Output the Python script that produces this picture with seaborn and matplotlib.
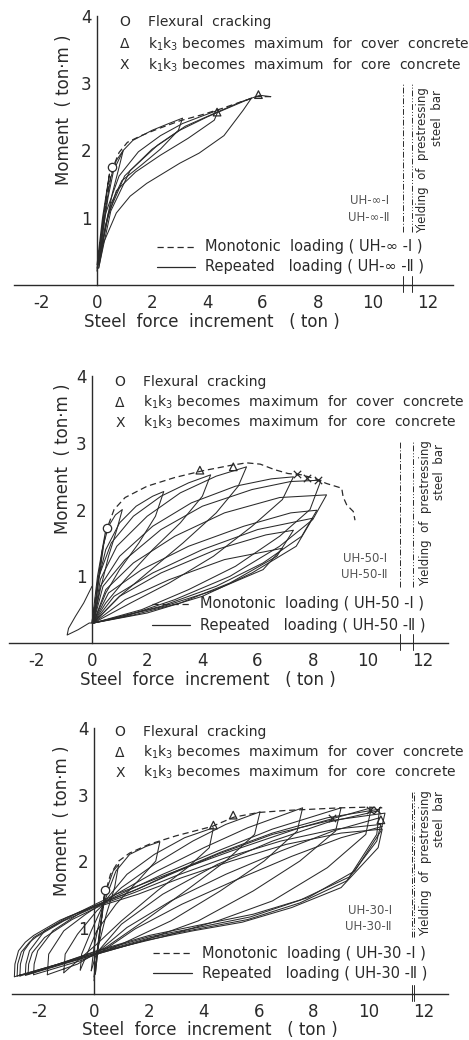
import matplotlib
matplotlib.use("Agg")
import matplotlib.pyplot as plt
import pandas as pd
import seaborn as sns

# ---------------- data ----------------
# Panel 1 : UH-inf
inf_mono = [(0.0, 0.2), (0.15, 0.7), (0.35, 1.3), (0.55, 1.72), (0.8, 1.97), (1.1, 2.12),
            (1.6, 2.22), (2.2, 2.32), (3.0, 2.44), (3.8, 2.53), (4.5, 2.62), (5.2, 2.72),
            (5.8, 2.8), (6.3, 2.8)]
inf_loops = [
    [(0.0, 0.3), (0.2, 1.0), (0.45, 1.65), (0.3, 1.2), (0.1, 0.55), (0.02, 0.3)],
    [(0.0, 0.25), (0.12, 0.6), (0.3, 1.1), (0.5, 1.6), (0.7, 1.85), (0.95, 2.0), (0.8, 1.75),
     (0.55, 1.35), (0.3, 0.85), (0.12, 0.45), (0.04, 0.3)],
    [(0.04, 0.3), (0.2, 0.75), (0.4, 1.3), (0.6, 1.7), (0.95, 2.0), (1.3, 2.15), (2.0, 2.3),
     (2.6, 2.4), (3.1, 2.48), (2.95, 2.3), (2.3, 2.02), (1.6, 1.78), (0.9, 1.55), (0.5, 1.2),
     (0.2, 0.62), (0.05, 0.3)],
    [(0.05, 0.3), (0.3, 1.05), (0.8, 1.62), (1.5, 1.98), (2.3, 2.22), (3.1, 2.4), (3.8, 2.51),
     (4.4, 2.6), (4.25, 2.45), (3.3, 2.18), (2.3, 1.93), (1.4, 1.68), (0.7, 1.4), (0.3, 0.88),
     (0.06, 0.3)],
    [(0.06, 0.3), (0.4, 1.05), (1.0, 1.62), (2.0, 2.02), (3.0, 2.3), (4.0, 2.5), (4.8, 2.64),
     (5.6, 2.78), (5.3, 2.6), (4.6, 2.22), (3.7, 1.96), (3.0, 1.81), (1.8, 1.51), (1.2, 1.32),
     (0.7, 1.07), (0.23, 0.62), (0.06, 0.25)],
    [(0.06, 0.25), (0.5, 1.1), (1.2, 1.7), (2.2, 2.08), (3.2, 2.36), (4.3, 2.56), (5.2, 2.72),
     (5.9, 2.82), (6.3, 2.8)],
]
inf_circle = [(0.55, 1.75)]
inf_tri = [(4.35, 2.57), (5.85, 2.83)]
inf_cross = []

# Panel 2 : UH-50
f50_mono = [(0.0, 0.3), (0.2, 0.9), (0.4, 1.45), (0.55, 1.72), (0.8, 2.0), (1.2, 2.18), (2.0, 2.35),
            (3.0, 2.48), (4.0, 2.58), (5.0, 2.66), (5.6, 2.7), (6.1, 2.68), (6.6, 2.6), (7.1, 2.54),
            (7.6, 2.52), (8.1, 2.46), (8.5, 2.39), (9.05, 2.32), (9.1, 2.19), (9.23, 2.07),
            (9.47, 1.97), (9.53, 1.84)]
f50_loops = [
    [(0.0, 0.3), (0.2, 1.0), (0.5, 1.7), (0.3, 1.1), (0.05, 0.35)],
    [(0.05, 0.3), (0.2, 0.9), (0.4, 1.45), (0.6, 1.75), (0.85, 1.92), (1.1, 2.0), (0.9, 1.7),
     (0.6, 1.3), (0.3, 0.8), (0.05, 0.3)],
    [(0.05, 0.3), (0.2, 0.9), (0.5, 1.4), (1.0, 1.8), (1.6, 2.05), (2.2, 2.2), (2.6, 2.27),
     (2.3, 1.9), (1.7, 1.5), (1.0, 1.1), (0.5, 0.75), (0.05, 0.3)],
    [(0.05, 0.3), (0.25, 1.0), (0.7, 1.5), (1.5, 1.9), (2.5, 2.2), (3.5, 2.4), (4.3, 2.52),
     (4.0, 2.2), (3.2, 1.8), (2.2, 1.4), (1.2, 0.95), (0.5, 0.6), (0.05, 0.3)],
    [(0.05, 0.3), (0.3, 0.95), (0.9, 1.45), (2.0, 1.9), (3.2, 2.25), (4.5, 2.5), (5.6, 2.64),
     (5.3, 2.35), (4.5, 1.95), (3.3, 1.5), (2.0, 1.05), (1.0, 0.7), (0.05, 0.3)],
    [(0.05, 0.3), (0.3, 0.85), (1.0, 1.3), (2.2, 1.75), (3.6, 2.1), (5.2, 2.35), (6.5, 2.46),
     (7.3, 2.49), (6.9, 2.15), (5.8, 1.75), (4.4, 1.3), (2.8, 0.9), (1.4, 0.6), (0.05, 0.3)],
    [(0.05, 0.3), (0.4, 0.85), (1.2, 1.25), (2.5, 1.7), (4.0, 2.05), (5.8, 2.3), (7.2, 2.42),
     (8.3, 2.44), (7.9, 2.0), (6.8, 1.6), (5.2, 1.15), (3.5, 0.8), (1.8, 0.5), (0.05, 0.3)],
    [(0.05, 0.3), (0.5, 0.8), (1.5, 1.2), (3.0, 1.6), (4.8, 1.95), (6.8, 2.18), (8.5, 2.22),
     (8.0, 1.85), (6.8, 1.45), (5.0, 1.0), (3.0, 0.65), (1.2, 0.4), (0.05, 0.3)],
    [(0.05, 0.3), (0.6, 0.75), (1.8, 1.1), (3.5, 1.45), (5.5, 1.75), (7.2, 1.95), (8.15, 1.99),
     (7.6, 1.6), (6.2, 1.2), (4.5, 0.85), (2.5, 0.55), (0.05, 0.3)],
    [(0.05, 0.3), (0.8, 0.7), (2.2, 1.05), (4.0, 1.4), (6.0, 1.7), (8.0, 1.87), (7.4, 1.45),
     (5.8, 1.05), (4.0, 0.7), (2.0, 0.45), (0.05, 0.3)],
    [(0.05, 0.3), (1.0, 0.7), (2.5, 1.05), (4.5, 1.4), (6.3, 1.62), (7.3, 1.69), (6.7, 1.3),
     (5.0, 0.9), (3.2, 0.6), (1.5, 0.42), (0.05, 0.3)],
    [(0.05, 0.3), (1.2, 0.65), (2.8, 0.95), (4.8, 1.25), (6.9, 1.42), (6.2, 1.1), (4.5, 0.8),
     (2.6, 0.55), (0.05, 0.3)],
    [(0.0, 0.85), (-0.3, 0.6), (-0.6, 0.4), (-0.85, 0.22), (-0.9, 0.12), (-0.5, 0.2), (-0.1, 0.3),
     (0.05, 0.3)],
]
f50_circle = [(0.53, 1.72)]
f50_tri = [(3.91, 2.59), (5.12, 2.64)]
f50_cross = [(7.42, 2.53), (7.78, 2.47), (8.2, 2.44)]

# Panel 3 : UH-30
f30_mono = [(0.0, 0.25), (0.2, 0.9), (0.4, 1.5), (0.6, 1.8), (0.9, 2.0), (1.3, 2.12), (2.0, 2.25),
            (3.0, 2.38), (4.3, 2.52), (5.1, 2.66), (6.0, 2.73), (7.0, 2.76), (8.0, 2.78),
            (9.0, 2.8), (10.0, 2.81), (10.5, 2.8)]
f30_loops = [
    [(0.0, 0.2), (0.1, 0.6), (0.25, 1.1), (0.4, 1.56), (0.3, 1.2), (0.15, 0.7), (0.05, 0.3)],
    [(0.05, 0.3), (0.2, 0.9), (0.4, 1.5), (0.7, 1.85), (0.9, 1.95), (0.75, 1.6), (0.45, 1.2),
     (0.15, 0.7), (-0.1, 0.35)],
    [(-0.1, 0.35), (0.0, 0.7), (0.3, 1.3), (0.8, 1.85), (1.3, 2.1), (1.9, 2.22), (2.4, 2.29),
     (2.25, 2.0), (1.6, 1.7), (0.8, 1.35), (0.1, 0.95), (-0.5, 0.36)],
    [(-0.5, 0.36), (-0.45, 0.6), (-0.1, 0.95), (0.4, 1.4), (1.2, 1.8), (2.2, 2.1), (3.3, 2.35),
     (4.35, 2.5), (4.2, 2.2), (3.4, 1.9), (2.3, 1.55), (1.0, 1.1), (0.1, 0.75), (-1.1, 0.32)],
    [(-1.1, 0.32), (-1.05, 0.6), (-0.6, 0.9), (0.1, 1.25), (1.0, 1.6), (2.2, 1.95), (3.6, 2.3),
     (4.8, 2.55), (6.05, 2.74), (5.85, 2.4), (4.8, 2.0), (3.5, 1.6), (2.0, 1.15), (0.5, 0.72),
     (-0.6, 0.45), (-1.7, 0.29)],
    [(-1.7, 0.29), (-1.65, 0.6), (-1.1, 0.95), (-0.3, 1.2), (0.8, 1.5), (2.3, 1.85), (4.0, 2.2),
     (5.6, 2.5), (7.6, 2.8), (7.4, 2.45), (6.2, 2.0), (4.6, 1.55), (2.8, 1.1), (1.0, 0.75),
     (-0.5, 0.5), (-2.2, 0.29)],
    [(-2.2, 0.29), (-2.18, 0.45), (-2.05, 0.65), (-1.5, 0.95), (-0.5, 1.22), (0.8, 1.47),
     (2.5, 1.8), (4.5, 2.15), (6.5, 2.48), (9.0, 2.8), (8.8, 2.45), (7.5, 2.0), (5.8, 1.55),
     (3.8, 1.1), (1.8, 0.8), (0.1, 0.6), (-1.2, 0.45), (-2.5, 0.29)],
    [(-2.5, 0.29), (-2.48, 0.45), (-2.35, 0.65), (-1.8, 0.95), (-0.6, 1.22), (0.8, 1.5),
     (2.8, 1.82), (5.0, 2.15), (7.5, 2.5), (10.1, 2.8), (9.9, 2.4), (8.5, 1.9), (6.5, 1.4),
     (4.5, 1.1), (2.5, 0.86), (0.1, 0.62), (-1.3, 0.45), (-2.7, 0.27)],
    [(-2.7, 0.27), (-2.68, 0.45), (-2.55, 0.65), (-2.2, 0.85), (-1.0, 1.15), (0.2, 1.35),
     (1.6, 1.58), (3.0, 1.85), (4.6, 2.13), (6.5, 2.42), (8.5, 2.65), (10.4, 2.78), (10.3, 2.4),
     (9.3, 1.76), (7.5, 1.41), (5.7, 1.16), (3.9, 1.01), (2.0, 0.86), (0.1, 0.64), (-1.3, 0.45),
     (-2.9, 0.26)],
    [(-2.9, 0.26), (-2.88, 0.45), (-2.75, 0.65), (-2.5, 0.78), (-2.2, 0.88), (-1.24, 1.11),
     (0.1, 1.34), (1.43, 1.55), (2.9, 1.82), (4.5, 2.1), (6.5, 2.4), (8.5, 2.6), (10.6, 2.72),
     (10.45, 2.45), (9.5, 1.85), (7.8, 1.45), (5.8, 1.2), (4.0, 1.05), (2.0, 0.88), (0.1, 0.65),
     (-1.3, 0.45), (-2.8, 0.27)],
    [(-2.8, 0.27), (-2.78, 0.45), (-2.65, 0.63), (-2.35, 0.78), (-2.1, 0.86), (-1.1, 1.1),
     (0.1, 1.32), (1.5, 1.53), (3.0, 1.78), (4.8, 2.05), (6.8, 2.3), (8.8, 2.48), (10.45, 2.55),
     (10.3, 2.3), (9.2, 1.7), (7.5, 1.37), (5.6, 1.12), (3.8, 0.98), (2.0, 0.84), (0.1, 0.62),
     (-2.4, 0.3)],
    [(-2.4, 0.3), (-2.38, 0.45), (-2.25, 0.62), (-1.8, 0.85), (-0.8, 1.12), (0.2, 1.32),
     (1.6, 1.5), (3.2, 1.75), (5.0, 2.0), (7.0, 2.25), (9.0, 2.42), (10.5, 2.48), (10.35, 2.2),
     (9.0, 1.6), (7.2, 1.3), (5.4, 1.08), (3.6, 0.95), (1.8, 0.8), (0.1, 0.6), (-2.5, 0.28)],
    [(0.1, 0.62), (1.0, 1.05), (2.5, 1.5), (4.5, 1.95), (6.5, 2.3), (8.5, 2.58), (10.3, 2.75)],
    [(0.1, 0.62), (1.2, 1.0), (2.8, 1.4), (4.8, 1.8), (6.8, 2.15), (8.7, 2.45), (10.4, 2.65)],
    [(0.15, 0.6), (1.5, 0.98), (3.2, 1.35), (5.2, 1.72), (7.2, 2.07), (9.0, 2.35), (10.5, 2.52)],
]
f30_circle = [(0.4, 1.56)]
f30_tri = [(4.35, 2.54), (5.07, 2.69), (10.45, 2.62)]
f30_cross = [(8.66, 2.64), (10.05, 2.76), (10.3, 2.77)]

x_ticks = [-2, 0, 2, 4, 6, 8, 10, 12]
y_ticks = [1, 2, 3, 4]

# ---------------- styling ----------------
sns.set_theme(style="white")
plt.rcParams['font.family'] = ['DejaVu Sans']
plt.rcParams['axes.unicode_minus'] = False
INK = '#2a2a2a'

fig = plt.figure(figsize=(4.69, 10.4), dpi=100)
fig.patch.set_facecolor('white')

panels = [
    dict(rect=[0.0303, 0.7260, 0.9356, 0.2587], mono=inf_mono, loops=inf_loops,
         circ=inf_circle, tri=inf_tri, cross=inf_cross, tag='UH-\u221e',
         leg=(1.0, 1.85, [3.91, 3.58, 3.27]), legl=(2.17, 3.55, 3.9, 0.57, 0.27),
         ylab=(-1.2, 2.6), xlab=(4.17, -0.55), vl=(11.09, 11.41, 3.0, 0.78),
         ytxt=((11.78, 1.86), (12.32, 2.48)), uh=(10.6, 1.25, 1.0)),
    dict(rect=[0.0196, 0.3817, 0.9356, 0.2567], mono=f50_mono, loops=f50_loops,
         circ=f50_circle, tri=f50_tri, cross=f50_cross, tag='UH-50',
         leg=(1.01, 1.86, [3.91, 3.6, 3.3]), legl=(2.16, 3.55, 3.9, 0.59, 0.27),
         ylab=(-1.05, 2.76), xlab=(4.2, -0.55), vl=(11.16, 11.63, 3.02, 0.84),
         ytxt=((12.07, 1.95), (12.6, 2.57)), uh=(10.7, 1.27, 1.02)),
    dict(rect=[0.0248, 0.0442, 0.9307, 0.2558], mono=f30_mono, loops=f30_loops,
         circ=f30_circle, tri=f30_tri, cross=f30_cross, tag='UH-30',
         leg=(0.95, 1.8, [3.94, 3.63, 3.33]), legl=(2.16, 3.56, 3.92, 0.61, 0.31),
         ylab=(-1.15, 2.6), xlab=(4.23, -0.54), vl=(11.57, 11.66, 3.04, 0.86),
         ytxt=((12.06, 1.97), (12.6, 2.63)), uh=(10.85, 1.26, 1.01)),
]

for p in panels:
    ax = fig.add_axes(p['rect'])
    ax.patch.set_alpha(0)
    rows = []
    for i, loop in enumerate(p['loops']):
        for (x, y) in loop:
            rows.append({'x': x, 'y': y, 'loop': i})
    df = pd.DataFrame(rows)
    sns.lineplot(data=df, x='x', y='y', units='loop', estimator=None, sort=False,
                 color=INK, lw=0.75, ax=ax, legend=False)
    mdf = pd.DataFrame(p['mono'], columns=['x', 'y'])
    sns.lineplot(data=mdf, x='x', y='y', sort=False, estimator=None, color=INK,
                 lw=0.9, linestyle=(0, (5, 3)), ax=ax, legend=False)
    if p['circ']:
        cx, cy = zip(*p['circ'])
        ax.scatter(cx, cy, s=36, marker='o', facecolors='white', edgecolors=INK, linewidths=0.9, zorder=5)
    if p['tri']:
        tx, ty = zip(*p['tri'])
        ax.scatter(tx, ty, s=30, marker='^', facecolors='none', edgecolors=INK, linewidths=0.9, zorder=5)
    if p['cross']:
        kx, ky = zip(*p['cross'])
        ax.scatter(kx, ky, s=28, marker='x', color=INK, linewidths=0.9, zorder=5)

    # axes
    ax.set_xlim(-3.0, 12.9)
    ax.set_ylim(0, 4)
    for s in ['top', 'right']:
        ax.spines[s].set_visible(False)
    ax.spines['left'].set_position(('data', 0))
    ax.spines['left'].set_bounds(0, 4)
    ax.spines['bottom'].set_position(('data', 0))
    for s in ['left', 'bottom']:
        ax.spines[s].set_color(INK)
        ax.spines[s].set_linewidth(1.0)
    ax.set_xticks(x_ticks)
    ax.set_xticklabels([str(t) for t in x_ticks])
    ax.set_xticks([-1, 1, 3, 5, 7, 9, 11], minor=True)
    ax.set_yticks(y_ticks)
    ax.set_yticklabels([str(t) for t in y_ticks])
    ax.set_yticks([0.5, 1.5, 2.5, 3.5], minor=True)
    ax.tick_params(axis='both', which='major', direction='inout', length=7, width=0.9,
                   color=INK, labelcolor=INK, labelsize=12)
    ax.tick_params(axis='both', which='minor', direction='inout', length=4, width=0.8, color=INK)
    ax.tick_params(axis='x', which='major', pad=3)
    ax.tick_params(axis='y', which='major', pad=0.5)
    ax.set_xlabel('')
    ax.set_ylabel('')

    # axis titles
    ax.text(p['ylab'][0], p['ylab'][1], 'Moment  ( ton\u00b7m )', rotation=90, ha='center', va='center',
            fontsize=12, color=INK, clip_on=False)
    ax.text(p['xlab'][0], p['xlab'][1], 'Steel  force  increment   ( ton )', ha='center', va='center',
            fontsize=12, color=INK, clip_on=False)

    # marker legend
    sx, tx0, ys = p['leg']
    for sym, txt, yy in zip(['O', '\u0394', 'X'],
                            ['Flexural  cracking',
                             r'k$_{\mathregular{1}}$k$_{\mathregular{3}}$ becomes  maximum  for  cover  concrete',
                             r'k$_{\mathregular{1}}$k$_{\mathregular{3}}$ becomes  maximum  for  core  concrete'],
                            ys):
        ax.text(sx, yy, sym, ha='center', va='center', fontsize=10, color=INK)
        ax.text(tx0, yy, txt, ha='left', va='center', fontsize=10, color=INK)

    # line legend
    x0, x1, xt, yd, ysol = p['legl']
    ax.plot([x0, x1], [yd, yd], color=INK, lw=0.9, linestyle=(0, (5, 3)))
    ax.plot([x0, x1], [ysol, ysol], color=INK, lw=0.9)
    tag = p['tag']
    ax.text(xt, yd, 'Monotonic  loading ( ' + tag + ' -\u2160 )', ha='left', va='center',
            fontsize=10.5, color=INK)
    ax.text(xt, ysol, 'Repeated   loading ( ' + tag + ' -\u2161 )', ha='left', va='center',
            fontsize=10.5, color=INK)

    # yielding lines (upper part + short marks across the x axis)
    v1, v2, vtop, vbot = p['vl']
    ax.plot([v1, v1], [vbot, vtop], color=INK, lw=0.7, linestyle=(0, (6, 2, 1, 2)), clip_on=False)
    ax.plot([v2, v2], [vbot, vtop], color=INK, lw=0.7, linestyle=(0, (6, 2, 1, 2, 1, 2)), clip_on=False)
    for v in (v1, v2):
        ax.plot([v, v], [-0.1, 0.13], color=INK, lw=0.7, clip_on=False)
    (yx1, yy1), (yx2, yy2) = p['ytxt']
    ax.text(yx1, yy1, 'Yielding  of  prestressing', rotation=90, ha='center', va='center',
            fontsize=8.5, color=INK, clip_on=False)
    ax.text(yx2, yy2, 'steel  bar', rotation=90, ha='center', va='center',
            fontsize=8.5, color=INK, clip_on=False)
    ux, uy1, uy2 = p['uh']
    ax.text(ux, uy1, tag + '-\u2160', ha='right', va='center', fontsize=8.5, color='#555555')
    ax.text(ux, uy2, tag + '-\u2161', ha='right', va='center', fontsize=8.5, color='#555555')

fig.savefig('out.png', dpi=100, facecolor='white')
